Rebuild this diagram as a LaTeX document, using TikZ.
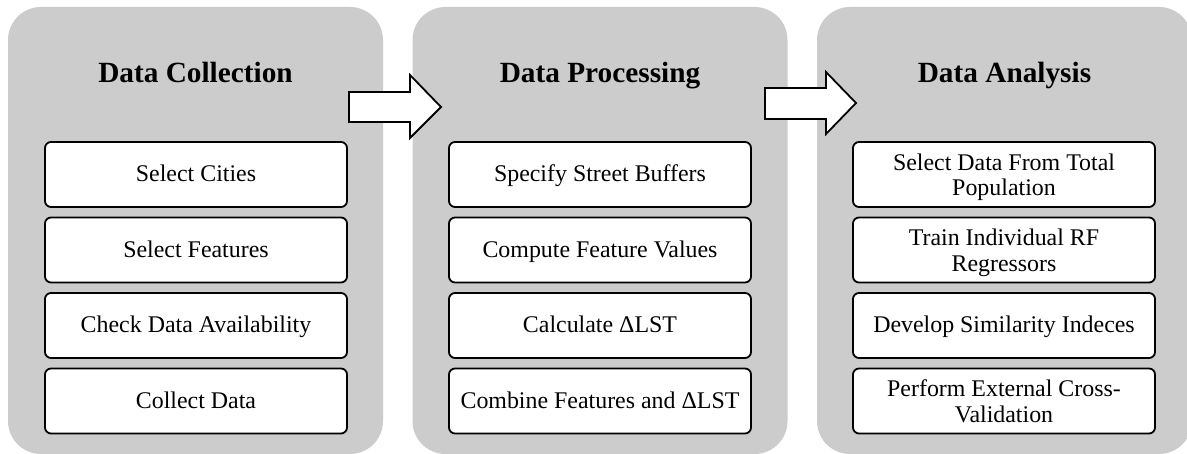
\documentclass[tikz,border=0pt]{standalone}
\usepackage{fontspec}
\setmainfont{Liberation Serif}
\definecolor{panelgray}{RGB}{204,204,204}
\begin{document}
\begin{tikzpicture}[x=1pt,y=-1pt,
  panel/.style={fill=panelgray, draw=none, rounded corners=33pt, minimum width=375pt, minimum height=447pt, inner sep=0pt},
  title/.style={font=\fontsize{29.3}{32}\selectfont\bfseries, anchor=base, inner sep=0pt},
  basebox/.style={draw=black, fill=white, line width=1.8pt, rounded corners=6pt, minimum width=302pt, minimum height=65pt, inner sep=0pt, font=\fontsize{23.9}{25.5}\selectfont, align=center},
  onebox/.style={basebox, text height=17pt, text depth=2pt},
  twobox/.style={basebox, text depth=0pt},
  blockarrow/.style={draw=black, fill=white, line width=1.8pt, line join=miter}
]
\clip (0,0) rectangle (1187,454);
\fill[white] (0,0) rectangle (1187,454);
% panels
\node[panel] (p1) at (195.5,230.5) {};
\node[panel] (p2) at (600,230.5) {};
\node[panel] (p3) at (1004.5,230.5) {};
% titles
\node[title] (t1) at (195.5,83) {Data Collection};
\node[title] (t2) at (600,83) {Data Processing};
\node[title] (t3) at (1004.5,83) {Data Analysis};
% arrows
\draw[blockarrow] (349,92) -- (410,92) -- (410,75) -- (441,107) -- (410,138) -- (410,122) -- (349,122) -- cycle;
\draw[blockarrow] (765,88) -- (826,88) -- (826,72) -- (856,103) -- (826,134) -- (826,119) -- (765,119) -- cycle;
% boxes panel 1
\node[onebox] (a1) at (196,174.5) {Select Cities};
\node[onebox] (a2) at (196,250) {Select Features};
\node[onebox] (a3) at (196,325.5) {Check Data Availability};
\node[onebox] (a4) at (196,401) {Collect Data};
% boxes panel 2
\node[onebox] (b1) at (600,174.5) {Specify Street Buffers};
\node[onebox] (b2) at (600,250) {Compute Feature Values};
\node[onebox] (b3) at (600,325.5) {Calculate ΔLST};
\node[onebox] (b4) at (600,401) {Combine Features and ΔLST};
% boxes panel 3
\node[twobox] (c1) at (1004,174.5) {Select Data From Total\\Population};
\node[twobox] (c2) at (1004,250) {Train Individual RF\\Regressors};
\node[onebox] (c3) at (1004,325.5) {Develop Similarity Indeces};
\node[twobox] (c4) at (1004,401) {Perform External Cross-\\Validation};
\end{tikzpicture}
\end{document}
